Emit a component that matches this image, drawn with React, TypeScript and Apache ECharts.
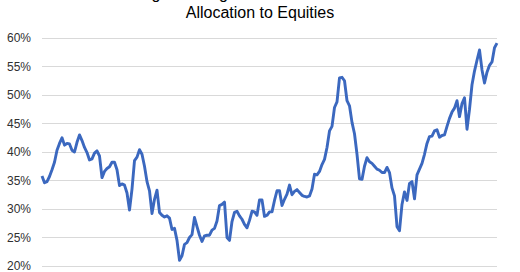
import React, { useEffect, useRef } from "react";
import * as echarts from "echarts";

const titleLines = ["Foreign Holdings of US Financial Assets:", "Allocation to Equities"];

const yTicks = [20, 25, 30, 35, 40, 45, 50, 55, 60];

const equityShare = [
  35.8, 34.6, 34.8, 35.7, 36.9, 38.2, 40.3, 41.5, 42.5, 41.2,
  41.5, 41.4, 40.3, 40.0, 41.7, 43.0, 42.0, 40.8, 39.9, 38.6,
  38.8, 39.8, 40.2, 39.3, 35.5, 36.6, 37.1, 37.4, 38.2, 38.2,
  36.9, 34.1, 34.4, 34.2, 32.8, 29.8, 33.5, 38.5, 39.1, 40.4,
  39.6, 37.5, 34.8, 33.2, 29.2, 31.7, 33.3, 29.4, 28.9, 28.6,
  28.8, 28.4, 26.4, 26.6, 24.5, 21.0, 21.8, 23.8, 24.1, 25.0,
  25.5, 28.5, 26.9, 25.4, 24.3, 25.3, 25.4, 25.4, 26.3, 26.6,
  27.9, 30.6, 30.8, 31.2, 25.0, 24.5, 27.8, 29.4, 29.6, 28.8,
  28.2, 27.3, 26.7, 28.0, 29.6, 29.5, 28.9, 31.6, 31.6, 28.7,
  28.9, 29.5, 29.5, 31.5, 33.2, 33.2, 30.6, 31.7, 32.6, 34.2,
  32.5, 33.1, 33.4, 32.9, 32.4, 32.2, 32.1, 32.3, 33.5, 36.1,
  36.0, 36.6, 37.8, 38.7, 40.8, 43.7, 44.5, 47.8, 48.8, 53.0,
  53.1, 52.5, 49.0, 48.1, 45.2, 43.2, 39.6, 35.3, 35.2, 37.5,
  39.0, 38.3, 38.0, 37.5, 37.0, 36.8, 36.4, 36.4, 37.3, 36.4,
  33.7, 32.3, 26.9, 26.2, 30.8, 33.0, 31.5, 34.5, 34.8, 31.8,
  36.0, 37.0, 38.0, 39.6, 41.5, 42.7, 42.8, 43.7, 43.9, 42.6,
  42.9, 43.0, 44.5, 45.9, 47.0, 47.7, 49.0, 46.2, 48.5, 49.5,
  44.0, 47.5, 51.8, 54.2, 56.1, 57.9, 54.4, 52.1, 54.0, 55.2,
  55.8, 58.3, 59.1,
];

const periods = equityShare.map((_, i) => `P${i + 1}`);

const titleFont = {
  fontFamily: "Liberation Sans, Arial, sans-serif",
  fontSize: 16,
  fontWeight: "normal" as const,
  color: "#000000",
  lineHeight: 19,
};

export default function App() {
  const ref = useRef<HTMLDivElement>(null);

  useEffect(() => {
    if (!ref.current) return;
    const chart = echarts.init(ref.current, undefined, { renderer: "svg" });
    chart.setOption({
      animation: false,
      backgroundColor: "#ffffff",
      title: [
        { text: titleLines[0], left: "center", top: -16, padding: 0, textStyle: titleFont },
        { text: titleLines[1], left: "center", top: 3, padding: 0, textStyle: titleFont },
      ],
      grid: { left: 42, right: 23, top: 38, bottom: 6, containLabel: false },
      xAxis: {
        type: "category",
        data: periods,
        boundaryGap: false,
        show: false,
      },
      yAxis: {
        type: "value",
        min: yTicks[0],
        max: yTicks[yTicks.length - 1],
        interval: 5,
        axisLine: { show: false },
        axisTick: { show: false },
        axisLabel: {
          margin: 11,
          formatter: (v: number) => `${v}%`,
          fontFamily: "Liberation Sans, Arial, sans-serif",
          fontSize: 12,
          color: "#303030",
        },
        splitLine: { lineStyle: { color: "#d9d9d9", width: 1 } },
      },
      series: [
        {
          type: "line",
          data: equityShare,
          showSymbol: false,
          smooth: false,
          lineStyle: { color: "#3b68bf", width: 2.9, join: "round" },
        },
      ],
    });
    return () => chart.dispose();
  }, []);

  return <div ref={ref} style={{ width: 520, height: 272, position: "absolute", left: 0, top: 0 }} />;
}
